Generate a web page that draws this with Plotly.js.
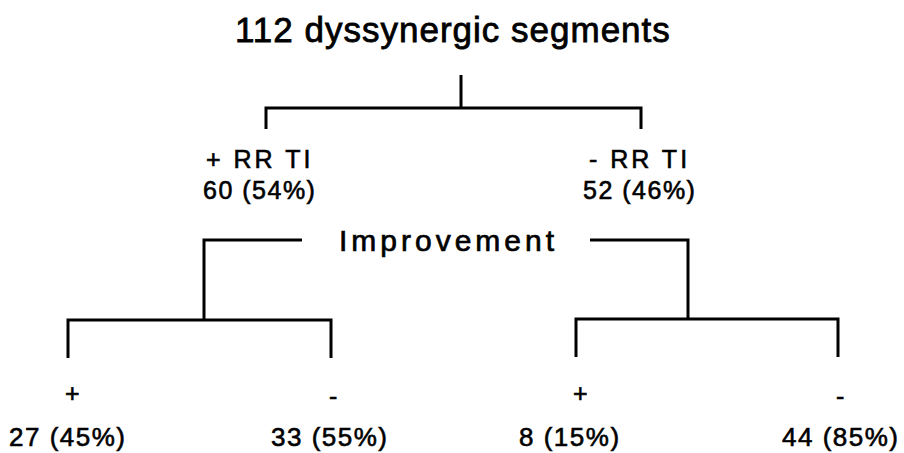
<!DOCTYPE html>
<html>
<head>
<meta charset="utf-8">
<script src="https://cdn.plot.ly/plotly-3.0.1.min.js"></script>
<style>html,body{margin:0;padding:0;background:#fff;}</style>
</head>
<body>
<div id="chart" style="width:904px;height:453px;"></div>
<script>
// ---- data ----
const rootCount = 112;
const rootLabel = "dyssynergic segments";
const groupLabels = ["+ RR TI", "- RR TI"];
const groupCounts = [60, 52];
const groupPcts = [54, 46];
const splitLabel = "Improvement";
const outcomeSigns = ["+", "-", "+", "-"];
const outcomeCounts = [27, 33, 8, 44];
const outcomePcts = [45, 55, 15, 85];

// ---- layout positions (pixel space) ----
const groupX = [266, 641];
const groupTextX = [259, 639];
const outcomeX = [68, 331, 576, 838];
const outcomeTextX = [68, 330, 570, 841];
const branchX = [204, 688];

const FONT = "Liberation Sans, Arial, Helvetica, sans-serif";
function sp(txt, ls, sw) {
  return '<span style="letter-spacing:' + ls + 'px;stroke:#000;stroke-width:' + sw + 'px">' + txt + '</span>';
}

// connector lines
const lx = [], ly = [];
function seg(pts) { pts.forEach(p => { lx.push(p[0]); ly.push(p[1]); }); lx.push(null); ly.push(null); }
seg([[461, 75], [461, 108]]);
seg([[groupX[0], 129], [groupX[0], 108], [groupX[1], 108], [groupX[1], 129]]);
seg([[302, 240], [branchX[0], 240], [branchX[0], 320]]);
seg([[590, 240], [branchX[1], 240], [branchX[1], 319]]);
seg([[outcomeX[0], 358], [outcomeX[0], 320], [outcomeX[1], 320], [outcomeX[1], 358]]);
seg([[outcomeX[2], 357], [outcomeX[2], 319], [outcomeX[3], 319], [outcomeX[3], 357]]);

const traces = [{
  x: lx, y: ly, type: 'scatter', mode: 'lines',
  line: { color: '#000', width: 3 }, connectgaps: false, hoverinfo: 'skip', showlegend: false
}];

const ann = [];
function add(x, y, text, size) {
  ann.push({ x: x, y: y, xref: 'x', yref: 'y', text: text, showarrow: false,
    xanchor: 'center', yanchor: 'middle', font: { family: FONT, size: size, color: '#000' } });
}
add(453, 29, sp(rootCount + " " + rootLabel, 1, 0.8), 35);
groupLabels.forEach((g, i) => {
  add(groupTextX[i], 159, sp(g, 3, 0.6), 25);
  add(groupTextX[i], 190, sp(groupCounts[i] + " (" + groupPcts[i] + "%)", 1.5, 0.6), 25);
});
add(448, 240, sp(splitLabel, 4, 0.7), 30);
outcomeSigns.forEach((s, i) => {
  add(outcomeX[i] + (i % 2 === 0 ? 4 : 2), s === "+" ? 393 : 396, sp(s, 0, 0.6), 25);
  add(outcomeTextX[i], 437, sp(outcomeCounts[i] + " (" + outcomePcts[i] + "%)", 1.5, 0.6), 26);
});

const layout = {
  width: 904, height: 453,
  margin: { l: 0, r: 0, t: 0, b: 0 },
  paper_bgcolor: '#fff', plot_bgcolor: '#fff',
  xaxis: { range: [0, 904], visible: false, fixedrange: true },
  yaxis: { range: [453, 0], visible: false, fixedrange: true },
  annotations: ann,
  showlegend: false
};
Plotly.newPlot('chart', traces, layout, { staticPlot: true, displayModeBar: false });
</script>
</body>
</html>
